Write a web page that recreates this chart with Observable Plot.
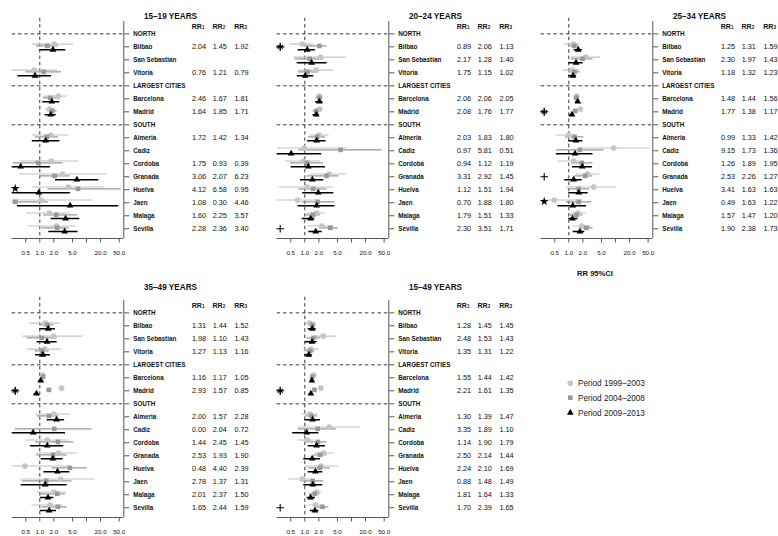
<!DOCTYPE html>
<html><head><meta charset="utf-8">
<script src="https://cdn.jsdelivr.net/npm/d3@7"></script>
<script src="https://cdn.jsdelivr.net/npm/@observablehq/plot@0.6"></script>
<style>
body{margin:0;background:#fff;font-family:"Liberation Sans",Arial,Helvetica,sans-serif;}
#wrap{position:relative;width:778px;height:536px;overflow:hidden;background:#fff;}
.panel{position:absolute;width:265px;height:262px;}
.panel svg{max-width:none !important;}
.axlab{position:absolute;font-weight:bold;font-size:7.6px;color:#111;transform:translate(-50%,-50%);white-space:nowrap;}
</style></head><body><div id="wrap"></div>
<script>
// ---- categories ----
const rowNames = ["NORTH","Bilbao","San Sebastian","Vitoria","LARGEST CITIES","Barcelona","Madrid","SOUTH","Almeria","Cadiz","Cordoba","Granada","Huelva","Jaen","Malaga","Sevilla"];
const cities = ["Bilbao","San Sebastian","Vitoria","Barcelona","Madrid","Almeria","Cadiz","Cordoba","Granada","Huelva","Jaen","Malaga","Sevilla"];
const sections = ["NORTH","LARGEST CITIES","SOUTH"];
const periods = ["Period 1999–2003","Period 2004–2008","Period 2009–2013"];
const rrHeaders = ["1","2","3"];
const xTicks = [0.5,1,2,5,10,20,50];
const xTickLabels = ["0.5","1.0","2.0","5.0","","20.0","50.0"];
const panelTitles = ["15–19 YEARS","20–24 YEARS","25–34 YEARS","35–49 YEARS","15–49 YEARS"];

// ---- 15–19 years ----
const est15_19 = [[2.04,1.45,1.92],null,[0.76,1.21,0.79],[2.46,1.67,1.81],[1.64,1.85,1.71],[1.72,1.42,1.34],null,[1.75,0.93,0.39],[3.06,2.07,6.23],[4.12,6.58,0.95],[1.08,0.30,4.46],[1.60,2.25,3.57],[2.28,2.36,3.40]];
const lo15_19 = [[0.69,0.85,1.0],null,[0.24,0.5,0.34],[1.22,1.18,1.16],[1.3,1.45,1.3],[0.69,0.8,0.69],null,[0.39,0.27,0.2],[0.37,1.0,2.17],[0.7,1.5,0.2],[0.26,0.2,0.33],[0.52,1.22,1.75],[0.58,1.12,1.56]];
const hi15_19 = [[5.3,2.5,3.6],null,[2.4,2.9,1.78],[3.85,2.77,2.68],[2.1,2.35,2.25],[4.2,2.5,2.7],null,[7.1,3.16,1.69],[26.8,4.5,18.3],[24,55,4.5],[13.9,1.56,49],[4.5,6.5,7.2],[6.1,4.2,6.6]];
const sig15_19 = [["Huelva","star"]];

// ---- 20–24 years ----
const est20_24 = [[0.89,2.06,1.13],[2.17,1.28,1.40],[1.75,1.15,1.02],[2.06,2.06,2.05],[2.08,1.76,1.77],[2.03,1.83,1.80],[0.97,5.81,0.51],[0.94,1.12,1.19],[3.31,2.92,1.45],[1.12,1.51,1.94],[0.70,1.88,1.80],[1.79,1.51,1.33],[2.30,3.51,1.71]];
const lo20_24 = [[0.49,1.03,0.72],[0.58,0.63,0.69],[0.74,0.72,0.69],[1.75,1.75,1.7],[1.8,1.5,1.5],[1.3,1.2,1.15],[0.24,0.75,0.2],[0.39,0.49,0.51],[1.32,1.12,0.81],[0.28,0.74,0.9],[0.24,0.88,0.72],[1.12,1.03,0.88],[1.12,2.35,1.22]];
const hi20_24 = [[1.56,3.0,1.69],[7.7,2.55,3.0],[4.2,1.84,1.56],[2.45,2.4,2.45],[2.4,2.05,2.05],[3.3,2.8,2.85],[8.0,45,2.3],[2.17,2.55,2.77],[7.7,5.35,2.55],[4.2,3.0,4.2],[2.0,4.5,4.4],[2.77,2.17,1.64],[4.2,5.2,2.35]];
const sig20_24 = [["Bilbao","asterisk"],["Sevilla","plus"]];

// ---- 25–34 years ----
const est25_34 = [[1.25,1.31,1.59],[2.30,1.97,1.43],[1.18,1.32,1.23],[1.48,1.44,1.56],[1.77,1.38,1.17],[0.99,1.33,1.42],[9.15,1.73,1.36],[1.26,1.89,1.95],[2.53,2.26,1.27],[3.41,1.63,1.63],[0.49,1.63,1.22],[1.57,1.47,1.20],[1.90,2.38,1.73]];
const lo25_34 = [[0.82,1.05,1.3],[1.14,1.14,1.0],[0.76,1.0,1.0],[1.35,1.3,1.4],[1.6,1.25,1.05],[0.54,0.85,1.0],[1.6,0.54,0.54],[0.59,1.14,1.2],[1.46,1.34,0.82],[0.89,0.97,1.0],[0.3,0.89,0.59],[1.14,1.05,1.0],[1.24,1.72,1.24]];
const hi25_34 = [[1.72,1.65,1.95],[4.85,3.3,2.03],[1.72,1.75,1.46],[1.62,1.6,1.72],[1.95,1.52,1.3],[1.46,2.1,2.0],[55,5.7,3.3],[1.72,3.3,3.2],[4.85,3.3,1.93],[10.5,2.8,2.6],[2.03,3.06,2.4],[2.4,2.0,1.58],[3.06,3.3,2.2]];
const sig25_34 = [["Madrid","asterisk"],["Granada","plus"],["Jaen","star"]];

// ---- 35–49 years ----
const est35_49 = [[1.31,1.44,1.52],[1.98,1.10,1.43],[1.27,1.13,1.16],[1.16,1.17,1.05],[2.93,1.57,0.85],[2.00,1.57,2.28],[0.00,2.04,0.72],[1.44,2.45,1.45],[2.53,1.93,1.90],[0.48,4.40,2.39],[2.78,1.37,1.31],[2.01,2.37,1.50],[1.65,2.44,1.59]];
const lo35_49 = [[0.61,1.0,1.0],[0.44,0.54,0.88],[0.55,0.8,0.81],[1.05,1.05,0.95],[2.6,1.4,0.75],[0.81,0.88,1.44],[null,0.3,0.1],[0.49,0.81,0.63],[0.88,0.85,1.07],[0.1,1.84,1.22],[0.39,0.42,0.4],[0.88,1.03,1.03],[0.68,1.12,1.03]];
const hi35_49 = [[2.77,2.0,2.17],[8.5,2.35,2.35],[2.86,1.6,1.69],[1.3,1.3,1.17],[3.3,1.75,0.96],[4.5,2.55,3.4],[null,13.2,3.55],[4.18,5.35,3.27],[6.5,3.85,3.16],[4.5,10.3,4.4],[15.5,4.9,3.85],[3.85,3.55,2.0],[3.16,3.85,2.27]];
const sig35_49 = [["Madrid","asterisk"]];

// ---- 15–49 years ----
const est15_49 = [[1.28,1.45,1.45],[2.48,1.53,1.43],[1.35,1.31,1.22],[1.55,1.44,1.42],[2.21,1.61,1.35],[1.30,1.39,1.47],[3.35,1.89,1.10],[1.14,1.90,1.79],[2.50,2.14,1.44],[2.24,2.10,1.69],[0.88,1.48,1.49],[1.81,1.64,1.33],[1.70,2.39,1.65]];
const lo15_49 = [[1.0,1.2,1.18],[1.56,1.12,1.03],[0.95,1.05,1.0],[1.45,1.35,1.32],[2.05,1.5,1.25],[0.88,1.05,1.0],[0.74,0.72,0.55],[0.72,1.22,1.18],[1.69,1.56,0.95],[1.03,1.22,1.18],[0.44,0.95,0.95],[1.44,1.25,1.12],[1.18,1.69,1.32]];
const hi15_49 = [[1.75,1.75,1.75],[4.7,2.17,1.84],[2.0,1.65,1.44],[1.67,1.55,1.53],[2.4,1.75,1.45],[1.93,1.85,2.17],[15.5,4.7,2.0],[1.56,3.0,2.77],[4.4,3.0,2.17],[5.2,3.55,2.43],[1.44,2.55,2.43],[2.35,2.1,1.69],[2.55,3.27,2.0]];
const sig15_49 = [["Madrid","asterisk"],["Sevilla","plus"]];

// ---- styling ----
const XMIN = 0.2566, XMAX = 62.9, YMIN = -0.95, YMAX = 15.75;
const OFF = [-0.21, -0.07, 0.22];
const LINE = ["#c2c2c2", "#999999", "#000000"];
const SW = [1.1, 1.2, 1.5];
const FILL = ["#c6c6c6", "#999999", "#000000"];
const SYM = ["circle", "square", "triangle"];
const RAD = [2.9, 2.6, 2.5];
const RRDX = [75.2, 96, 117.7];
const FONT = "'Liberation Sans', Arial, Helvetica, sans-serif";

function panel(title, est, lo, hi, sig, titleDy) {
  const recs = [];
  cities.forEach((c, i) => {
    if (!est[i]) return;
    for (let p = 0; p < 3; p++) recs.push({city: c, row: rowNames.indexOf(c), p, est: est[i][p], lo: lo[i][p], hi: hi[i][p]});
  });
  const sectionRows = sections.map(s => rowNames.indexOf(s));
  const marks = [
    Plot.ruleX([1], {y1: -1.2, y2: YMAX, stroke: "#222", strokeWidth: 0.9, strokeDasharray: "3.5,2.8"}),
    Plot.ruleY(sectionRows, {x1: XMIN, x2: XMAX, stroke: "#222", strokeWidth: 0.9, strokeDasharray: "3.5,2.8"}),
    Plot.ruleX([XMAX], {y1: YMIN, y2: YMAX, stroke: "#555", strokeWidth: 1}),
    Plot.ruleY([YMAX], {x1: XMIN, x2: XMAX, stroke: "#555", strokeWidth: 1}),
    Plot.axisY({anchor: "right", ticks: d3.range(rowNames.length), tickFormat: i => rowNames[i], tickSize: 5, tickPadding: 4.4, fontSize: 6.3, fontWeight: "bold", stroke: "#555", fill: "#111", label: null}),
    Plot.axisX({ticks: xTicks, tickFormat: () => "", tickSize: 4.5, stroke: "#555", label: null}),
    Plot.text(xTicks, {x: d => d, frameAnchor: "bottom", dy: 16, text: d => xTickLabels[xTicks.indexOf(d)], fontSize: 6.2, fill: "#111"})
  ];
  for (let p = 0; p < 3; p++) {
    const d = recs.filter(r => r.p === p && r.lo != null);
    marks.push(Plot.ruleY(d, {y: r => r.row + OFF[p], x1: "lo", x2: "hi", stroke: LINE[p], strokeWidth: SW[p], clip: true}));
  }
  for (let p = 0; p < 3; p++) {
    marks.push(Plot.dot(recs.filter(r => r.p === p && r.est > 0), {x: "est", y: r => r.row + OFF[p], symbol: SYM[p], r: RAD[p], fill: FILL[p], stroke: "none"}));
  }
  // significance markers
  marks.push(Plot.dot(sig.filter(s => s[1] === "star"), {y: s => rowNames.indexOf(s[0]) - 0.1, frameAnchor: "left", dx: 3, symbol: "star", r: 2.8, fill: "#000"}));
  marks.push(Plot.dot(sig.filter(s => s[1] === "plus"), {y: s => rowNames.indexOf(s[0]), frameAnchor: "left", dx: 3, symbol: "plus", r: 2.6, stroke: "#000", strokeWidth: 1.1}));
  marks.push(Plot.dot(sig.filter(s => s[1] === "asterisk"), {y: s => rowNames.indexOf(s[0]), frameAnchor: "left", dx: 3, symbol: "asterisk", r: 3, stroke: "#000", strokeWidth: 1.1}));
  marks.push(Plot.dot(sig.filter(s => s[1] === "asterisk"), {y: s => rowNames.indexOf(s[0]), frameAnchor: "left", dx: 3, symbol: "plus", r: 2.8, stroke: "#000", strokeWidth: 1.1}));
  // RR columns
  const byCity = cities.map((c, i) => ({city: c, row: rowNames.indexOf(c), v: est[i]})).filter(d => d.v);
  for (let p = 0; p < 3; p++) {
    marks.push(Plot.text(byCity, {y: "row", frameAnchor: "right", dx: RRDX[p], text: d => d.v[p].toFixed(2), textAnchor: "middle", fontSize: 7.3, fill: "#111"}));
    marks.push(Plot.text(["RR"], {frameAnchor: "top-right", dx: RRDX[p] - 2.2, dy: 2.3, text: d => d, textAnchor: "middle", fontSize: 7, fontWeight: "bold", fill: "#111"}));
    marks.push(Plot.text([rrHeaders[p]], {frameAnchor: "top-right", dx: RRDX[p] + 4.3, dy: 4, text: d => d, textAnchor: "middle", fontSize: 4.6, fontWeight: "bold", fill: "#111"}));
  }
  marks.push(Plot.text([title], {frameAnchor: "top-right", dx: 46.7, dy: titleDy, text: d => d, textAnchor: "middle", fontSize: 8.2, fontWeight: "bold", fill: "#111"}));

  return Plot.plot({
    width: 265, height: 262,
    marginLeft: 11.7, marginRight: 141.7, marginTop: 21, marginBottom: 24,
    x: {type: "log", domain: [XMIN, XMAX]},
    y: {domain: [YMIN, YMAX], reverse: true},
    style: {fontFamily: FONT, background: "none", overflow: "visible", maxWidth: "none"},
    marks
  });
}

const wrap = document.getElementById("wrap");
const cfgs = [
  [panelTitles[0], est15_19, lo15_19, hi15_19, sig15_19, 0, 0],
  [panelTitles[1], est20_24, lo20_24, hi20_24, sig20_24, 1, 0],
  [panelTitles[2], est25_34, lo25_34, hi25_34, sig25_34, 2, 0],
  [panelTitles[3], est35_49, lo35_49, hi35_49, sig35_49, 0, 1],
  [panelTitles[4], est15_49, lo15_49, hi15_49, sig15_49, 1, 1]
];
cfgs.forEach(([t, e, l, h, s, col, row]) => {
  const div = document.createElement("div");
  div.className = "panel";
  div.style.left = (col * 264.7) + "px";
  div.style.top = (row * 279) + "px";
  div.appendChild(panel(t, e, l, h, s, row === 0 ? -8.3 : -16.7));
  wrap.appendChild(div);
});

// x-axis title under the 25–34 panel
const ax = document.createElement("div");
ax.className = "axlab";
ax.style.left = "595px"; ax.style.top = "273.3px";
ax.textContent = "RR 95%CI";
wrap.appendChild(ax);

// legend
const ns = "http://www.w3.org/2000/svg";
const lg = document.createElementNS(ns, "svg");
lg.setAttribute("width", 120); lg.setAttribute("height", 50);
lg.style.position = "absolute"; lg.style.left = "560px"; lg.style.top = "375px";
lg.style.fontFamily = FONT;
const ly = [8.3, 22.7, 37.7];
periods.forEach((p, i) => {
  const cx = 10.3, cy = ly[i];
  const sym = d3.symbol(d3[["symbolCircle","symbolSquare","symbolTriangle"][i]], Math.PI * RAD[i] * RAD[i])();
  const path = document.createElementNS(ns, "path");
  path.setAttribute("d", sym);
  path.setAttribute("transform", `translate(${cx},${cy})`);
  path.setAttribute("fill", FILL[i]);
  lg.appendChild(path);
  const t = document.createElementNS(ns, "text");
  t.setAttribute("x", 18); t.setAttribute("y", cy); t.setAttribute("dy", "0.35em");
  t.setAttribute("font-size", "8.2"); t.setAttribute("fill", "#222");
  t.textContent = p;
  lg.appendChild(t);
});
wrap.appendChild(lg);
</script></body></html>
